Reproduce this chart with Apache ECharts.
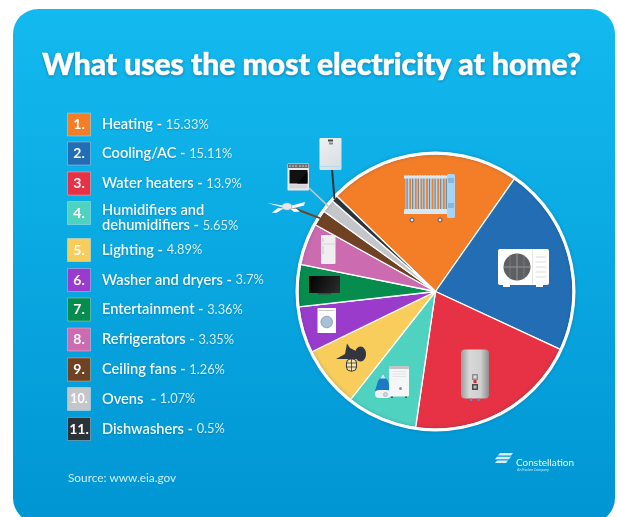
<!DOCTYPE html>
<html>
<head>
<meta charset="utf-8">
<style>html,body{margin:0;padding:0;background:#fff}#chart{width:617px;height:517px}</style>
<script src="https://cdn.jsdelivr.net/npm/echarts@6/dist/echarts.min.js"></script>
</head>
<body>
<div id="chart"></div>
<script>
// Household electricity use, by appliance group
var categories = ['Heating','Cooling/AC','Water heaters','Humidifiers and\ndehumidifiers','Lighting','Washer and dryers','Entertainment','Refrigerators','Ceiling fans','Ovens ','Dishwashers'];
var shares = [15.33,15.11,13.9,5.65,4.89,3.7,3.36,3.35,1.26,1.07,0.5];
var colors = ['#f47d27','#226db4','#e63244','#4fd2bf','#f8cd5c','#9b3bcb','#068c4c','#cc6bb0','#6f4223','#c4c6c9','#2c3338'];
var rowCentres = [124.5,153.5,183.5,213,250,280,309.5,339.5,369.5,399,429];
var title = 'What uses the most electricity at home?';
var source = 'Source: www.eia.gov';

var cx = 435.5, cy = 291.5, radius = 137.5, startAngle = 136;
var FONT = 'Lato, "Open Sans", sans-serif';
var els = [];

function add(type, shape, style, z, extra) {
  var e = Object.assign({type: type, shape: shape, style: style, z: z === undefined ? 10 : z, silent: true}, extra || {});
  els.push(e);
}
function rect(x, y, w, h, fill, r, z) { add('rect', {x: x, y: y, width: w, height: h, r: r || 0}, {fill: fill}, z); }
function circle(x, y, r, fill, stroke, lw) { add('circle', {cx: x, cy: y, r: r}, {fill: fill, stroke: stroke, lineWidth: lw || 0}); }
function line(x1, y1, x2, y2, stroke, lw) { add('line', {x1: x1, y1: y1, x2: x2, y2: y2}, {stroke: stroke, lineWidth: lw, lineCap: 'round'}); }
function poly(points, fill) { add('polygon', {points: points}, {fill: fill}); }
function text(x, y, s, fontSize, weight, fill, opts) {
  els.push({type: 'text', x: x, y: y, z: 12, silent: true,
    style: Object.assign({text: s, fontFamily: FONT, fontSize: fontSize, fontWeight: weight, fill: fill,
      verticalAlign: 'middle'}, opts || {})});
}

// Card behind everything
rect(13, 9, 602, 514, {type: 'linear', x: 0, y: 0, x2: 0, y2: 1,
  colorStops: [{offset: 0, color: '#13baef'}, {offset: 1, color: '#0095d3'}]}, 25, 0);

text(311.5, 65, title, 30, 900, '#ffffff', {align: 'center', stroke: '#ffffff', lineWidth: 0.7,
  textShadowColor: 'rgba(0,50,90,0.35)', textShadowBlur: 3, textShadowOffsetY: 1});

// Numbered key, one row per category
categories.forEach(function (name, i) {
  var y = rowCentres[i];
  add('rect', {x: 67.5, y: y - 11.5, width: 23, height: 23}, {fill: colors[i], stroke: 'rgba(255,255,255,0.3)', lineWidth: 1}, 10);
  text(79, y, (i + 1) + '.', i === 9 ? 12.5 : 14, 700, '#ffffff', {align: 'center'});
  var parts = name.split('\n');
  var head = parts.slice(0, -1).map(function (p) { return '{n|' + p + '}\n'; }).join('');
  var body = head + '{n|' + parts[parts.length - 1] + ' - }{v|' + shares[i] + '%}';
  els.push({type: 'text', x: 102, y: y + (parts.length > 1 ? 5 : 0), z: 12, silent: true, style: {
    text: body, fill: '#fff', verticalAlign: 'middle', lineHeight: 15,
    rich: {
      n: {fontFamily: FONT, fontSize: 14.6, fontWeight: 600, fill: '#f2fbff', lineHeight: 15,
          textShadowColor: 'rgba(0,50,90,0.3)', textShadowBlur: 2, textShadowOffsetY: 1},
      v: {fontFamily: FONT, fontSize: 12.8, fontWeight: 400, fill: '#d6f1fb', lineHeight: 15,
          textShadowColor: 'rgba(0,50,90,0.3)', textShadowBlur: 2, textShadowOffsetY: 1}
    }
  }});
});

text(68, 478, source, 11.8, 400, '#cdeefa');

// Logo mark and wordmark
poly([[500,453],[513,453],[511,455.5],[498,455.5]], '#d8f3fd');
poly([[497,456.8],[511,456.8],[509,459.3],[495,459.3]], '#d8f3fd');
poly([[497,460.5],[508,460.5],[506,463],[495,463]], '#d8f3fd');
text(516, 463, 'Constellation', 10, 400, '#e6f8ff');
text(517, 470, 'An Exelon Company', 3.6, 400, '#bfe9f8');

// Outer point of a slice's centre line, from the same shares the pie uses
var total = shares.reduce(function (a, b) { return a + b; }, 0);
function sliceEdge(i) {
  var before = shares.slice(0, i).reduce(function (a, b) { return a + b; }, 0);
  var deg = startAngle - (before + shares[i] / 2) / total * 360;
  var rad = deg * Math.PI / 180;
  return [cx + radius * Math.cos(rad), cy - radius * Math.sin(rad)];
}
var e;
e = sliceEdge(10); line(e[0], e[1], 332, 169, '#2c3338', 2);
e = sliceEdge(9);  line(e[0], e[1], 309, 188, '#c4c6c9', 1.5);
e = sliceEdge(8);  line(e[0], e[1], 293, 208, '#6f4223', 2);

// Radiator
for (var k = 0; k < 8; k++) {
  rect(405.5 + k * 5.6, 175, 3.8, 38, '#b4d6ee');
  rect(406.5 + k * 5.6, 175, 1.2, 38, '#6d8799');
}
rect(404, 175.5, 46, 3, '#d7e8f5');
rect(404, 209, 46, 5, '#d7e8f5');
rect(447, 174, 8, 44, '#a7d4f2', 1.5);
rect(448, 178, 6, 5, '#86b8dd'); rect(448, 203, 6, 5, '#86b8dd');
circle(412, 220, 2, '#dfe5ea', '#4c565e', 1);
circle(440, 220, 2, '#dfe5ea', '#4c565e', 1);

// Outdoor air conditioner
rect(498, 249, 51, 36, '#ffffff', 2);
rect(503, 285, 7, 2, '#ffffff'); rect(536, 285, 7, 2, '#ffffff');
circle(517, 267, 13.5, '#5d5f62');
line(517, 254, 517, 280, '#a2a4a6', 0.8); line(504, 267, 530, 267, '#a2a4a6', 0.8);
line(510, 255, 510, 279, '#8a8c8e', 0.6); line(524, 255, 524, 279, '#8a8c8e', 0.6);
line(532.5, 250, 532.5, 284, '#dddddd', 0.7);
[257, 262, 267, 272, 277].forEach(function (y) { line(536, y, 546, y, '#d2d2d2', 0.8); });

// Water heater tank
rect(461, 349.5, 28, 49, {type: 'linear', x: 0, y: 0, x2: 1, y2: 0, colorStops: [
  {offset: 0, color: '#9c9c9c'}, {offset: 0.3, color: '#d8d8d8'}, {offset: 0.7, color: '#cfcfcf'}, {offset: 1, color: '#8d8d8d'}]}, 4);
rect(472, 374, 6, 6, '#8e8f90'); rect(473.5, 375.5, 3, 3, '#e0e0e0');
rect(473.5, 380, 3, 3, '#c9303c');
rect(472, 384, 6, 6, '#4a4b4d'); rect(473.5, 385.5, 3, 3, '#bdbdbd');
rect(470, 398.5, 2, 2.5, '#4f94c6'); rect(477.5, 398.5, 2, 2.5, '#4f94c6');

// Humidifier and dehumidifier
poly([[383,374],[388,381],[391,391],[375,391],[378,381]], '#1c79c6');
poly([[383,374],[386,378.5],[380,378.5]], '#cfe4f4');
rect(375, 390, 16, 8, '#eef2f5', 4);
circle(385.5, 394.5, 2, '#cfd8dd', '#9aa5ab', 0.6);
rect(389, 366.5, 20, 30, '#f5f6f7', 1.5);
rect(389, 366, 20, 3, '#c2c5c8', 1);
[371.5, 374, 376.5].forEach(function (y) { line(393, y, 406, y, '#dadcde', 0.7); });
circle(400.5, 388.5, 1.5, '#8a8f93');
rect(391, 396.5, 2, 1.5, '#555'); rect(405, 396.5, 2, 1.5, '#555');

// Wall lamp
add('ellipse', {cx: 360.5, cy: 354, rx: 5.5, ry: 7.5}, {fill: '#33363f'});
poly([[336,359],[345,354],[347,343.5],[350,348],[356,351],[360,351],[360,356],[357,359]], '#33363f');
add('rect', {x: 346.5, y: 359, width: 10, height: 12, r: 4}, {fill: '#f9e6a6', stroke: '#33363f', lineWidth: 1});
line(346.5, 363, 356.5, 363, '#33363f', 0.8); line(346.5, 367, 356.5, 367, '#33363f', 0.8);
line(351.5, 359, 351.5, 371, '#33363f', 0.8);

// Washing machine
rect(317.5, 308, 18.5, 25, '#ffffff');
line(319, 310.5, 334, 310.5, '#c9c9cc', 1);
circle(326.7, 322, 5.8, '#a9c0da', '#8692a0', 0.8);

// Television
rect(309, 276, 31, 17, {type: 'linear', x: 0, y: 0, x2: 1, y2: 1, colorStops: [
  {offset: 0, color: '#000000'}, {offset: 1, color: '#2e2e2e'}]});
rect(318, 293, 13, 1.5, '#444');

// Refrigerator
rect(321, 235, 14.5, 29, '#efefef', 1);
line(321, 244, 335.5, 244, '#c9c9c9', 0.7);
rect(322.5, 238, 1, 4, '#c6c6c6'); rect(322.5, 246, 1, 8, '#c6c6c6');

// Ceiling fan
poly([[267,203],[283,205.5],[283,207.5]], '#ffffff');
poly([[292,205.5],[305,202],[304,205.5],[292,208.5]], '#ffffff');
poly([[278,208],[284,208.5],[276,213],[272,212.5]], '#ffffff');
poly([[290,208.5],[296,208.5],[300,211.5],[294,212]], '#ffffff');
add('ellipse', {cx: 287, cy: 206.5, rx: 5, ry: 3.5}, {fill: '#e6e6e6', stroke: '#b8b8b8', lineWidth: 0.5});

// Oven
rect(287.5, 163.5, 21.5, 27, '#e9e9ea', 1);
rect(288, 164, 20.5, 4, '#6d6e70');
[290, 293, 296, 300, 303, 306].forEach(function (x) { circle(x, 166, 0.8, '#d8d8d8'); });
rect(289.5, 170, 18, 13.5, '#111111');
poly([[297,183.5],[307.5,172],[307.5,183.5]], '#050505');
rect(289.5, 184.5, 18, 4, '#d5d6d8');

// Dishwasher
rect(319.5, 138, 22, 32, {type: 'linear', x: 0, y: 0, x2: 1, y2: 1, colorStops: [
  {offset: 0, color: '#eef1f3'}, {offset: 1, color: '#d7dce0'}]}, 1);
rect(328, 139.5, 5, 2, '#444');
rect(329, 142.5, 4, 2, '#888');
rect(319.5, 166, 22, 1, '#b9d9ec');

var chart = echarts.init(document.getElementById('chart'), null, {renderer: 'canvas'});
chart.setOption({
  animation: false,
  graphic: {elements: els},
  series: [
    {
      type: 'pie', z: 3, silent: true, center: [cx, cy], radius: [0, radius],
      startAngle: startAngle, clockwise: true,
      label: {show: false}, labelLine: {show: false},
      itemStyle: {borderColor: '#ffffff', borderWidth: 1.3},
      data: categories.map(function (name, i) {
        return {name: name.replace('\n', ' ').trim(), value: shares[i], itemStyle: {color: colors[i]}};
      })
    },
    {
      // white rim around the whole pie
      type: 'pie', z: 4, silent: true, center: [cx, cy], radius: [radius - 0.5, radius + 2.5],
      label: {show: false}, labelLine: {show: false},
      itemStyle: {color: '#ffffff', shadowColor: 'rgba(0,40,80,0.25)', shadowBlur: 4},
      data: [{name: 'rim', value: 1}]
    }
  ]
});
</script>
</body>
</html>
